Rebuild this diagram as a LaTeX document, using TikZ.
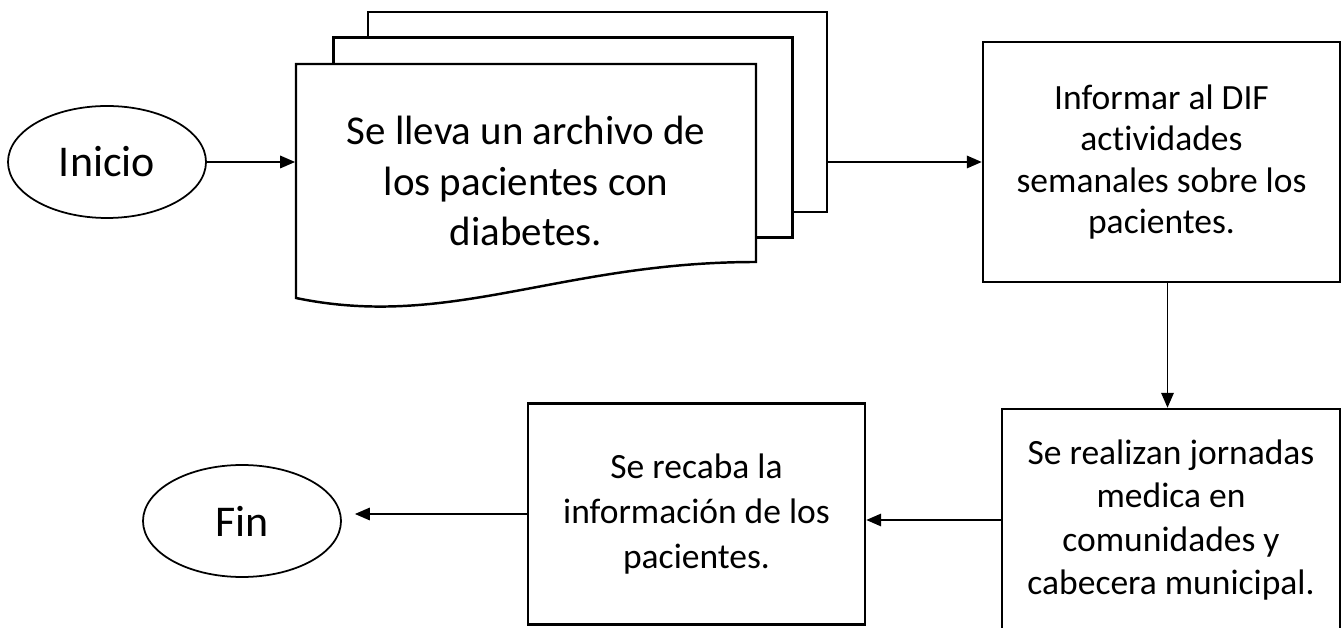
\documentclass[tikz,border=0pt]{standalone}
\usepackage{fontspec}
\setmainfont{Carlito}[Ligatures=NoCommon]
\usetikzlibrary{arrows.meta,shapes.geometric}

\begin{document}
\begin{tikzpicture}[line width=1pt,>={Triangle[length=3mm,width=2.5mm]},
  term/.style={ellipse,draw,line width=1pt,minimum width=3.96cm,minimum height=2.24cm,
    inner sep=0pt,font=\fontsize{25}{30}\selectfont},
  proc/.style={rectangle,draw,line width=1.4pt,align=center,inner sep=0pt,
    font=\fontsize{20.2}{24.6}\selectfont},
  hoja/.style={rectangle,draw,fill=white,line width=1.4pt,minimum width=9.18cm,minimum height=4cm}]
\useasboundingbox (0,0) rectangle (26.88,12.56);
% ---------- inicio ----------
\node[term] (inicio) at (2.14,9.32) {Inicio};
% ---------- archivo (multidocumento) ----------
\node[hoja] (hoja3) at (11.95,10.32) {};
\node[hoja] (hoja2) at (11.26,9.81) {};
\draw[fill=white,line width=1.4pt] (5.92,11.28) -- (15.12,11.28) -- (15.12,7.32)
  .. controls (11.2,7.32) and (9.0,5.96) .. (5.92,6.60) -- cycle;
\node[align=center,minimum width=9.2cm,minimum height=4.68cm,
  font=\fontsize{23.3}{28.5}\selectfont] (archivo) at (10.52,8.94)
  {Se lleva un archivo de\\los pacientes con\\diabetes.};
% ---------- procesos ----------
\node[proc,minimum width=7.14cm,minimum height=4.8cm,font=\fontsize{20.2}{23.5}\selectfont]
  (informar) at (23.23,9.32)
  {Informar al DIF\\actividades\\semanales sobre los\\pacientes.};
\node[proc,minimum width=6.76cm,minimum height=4.44cm] (realizan) at (23.42,2.16)
  {Se realizan jornadas\\medica en\\comunidades y\\cabecera municipal.};
\node[proc,minimum width=6.74cm,minimum height=4.42cm,font=\fontsize{20.2}{25.6}\selectfont]
  (recaba) at (13.93,2.28)
  {Se recaba la\\información de los\\pacientes.};
% ---------- fin ----------
\node[term] (fin) at (4.84,2.14) {Fin};
% ---------- flechas ----------
\draw[->] (inicio.east) -- (inicio.east -| archivo.west);
\draw[->] (hoja3.east |- informar.west) -- (informar.west);
\draw[->] ([xshift=1.2mm]informar.south) -- ([xshift=1.2mm]informar.south |- realizan.north);
\draw[->] (realizan.west) -- (realizan.west -| recaba.east);
\draw[->,shorten >=2.6mm] (recaba.west) -- (recaba.west -| fin.east);
\end{tikzpicture}
\end{document}
